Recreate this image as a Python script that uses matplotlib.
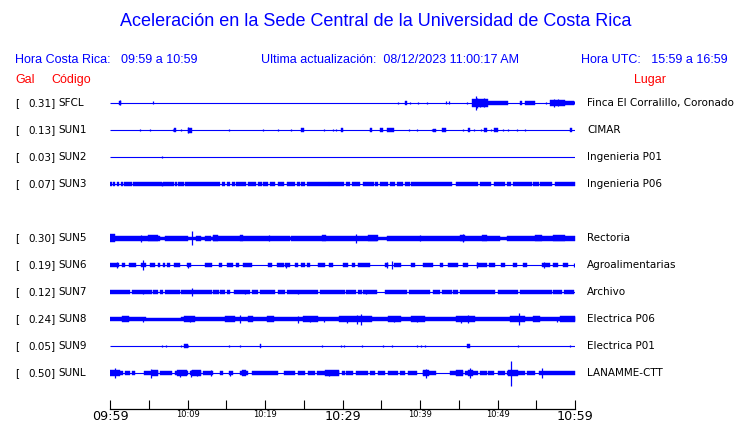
import matplotlib
matplotlib.use("Agg")
import matplotlib.pyplot as plt

W, H = 740, 423
BLUE = "#0000ff"

# ---- station table ----
codes = ["SFCL", "SUN1", "SUN2", "SUN3", "SUN5", "SUN6", "SUN7", "SUN8", "SUN9", "SUNL"]
gal = [0.31, 0.13, 0.03, 0.07, 0.30, 0.19, 0.12, 0.24, 0.05, 0.50]
places = ["Finca El Corralillo, Coronado", "CIMAR", "Ingenieria P01", "Ingenieria P06",
          "Rectoria", "Agroalimentarias", "Archivo", "Electrica P06", "Electrica P01",
          "LANAMME-CTT"]
rows = [0, 1, 2, 3, 5, 6, 7, 8, 9, 10]

time_labels = ["09:59", "10:09", "10:19", "10:29", "10:39", "10:49", "10:59"]

# ---- trace envelopes ----
# bursts: (start min, end min, half height px); spikes: (min, half height px)
sfcl_bursts = [(1.1, 1.4, 1.5), (38.0, 38.3, 1.5), (46.7, 48.8, 3.3), (48.8, 51.3, 1.5),
               (52.9, 53.2, 1.5), (53.5, 54.8, 1.7), (56.8, 58.7, 2.8), (58.7, 59.9, 1.5)]
sfcl_spikes = [(1.3, 2.5), (5.5, 1.5), (37.1, 1.3), (38.7, 1.0), (39.8, 1.3), (40.9, 1.0),
               (43.4, 1.5), (43.8, 1.5), (46.1, 1.0), (47.2, 7.0), (47.4, 5.0), (47.7, 4.0),
               (48.3, 4.5), (50.1, 1.5), (56.3, 1.0), (57.3, 4.0), (57.8, 3.5), (59.9, 1.5)]

sun1_bursts = [(8.3, 8.5, 1.5), (10.1, 10.6, 2.0), (24.6, 25.0, 1.5), (29.8, 30.0, 1.2),
               (33.5, 33.8, 1.5), (34.9, 35.2, 1.5), (35.7, 36.7, 1.7), (41.7, 42.0, 1.0),
               (42.9, 43.4, 1.5), (46.2, 46.5, 1.5), (48.3, 48.7, 1.7), (49.6, 50.0, 1.7),
               (59.3, 59.6, 1.5)]
sun1_spikes = [(3.9, 1.3), (5.1, 1.3), (8.1, 1.0), (9.2, 1.3), (10.1, 3.3), (15.4, 1.3),
               (19.8, 1.3), (21.7, 0.8), (23.3, 1.3), (27.6, 1.3), (28.8, 1.3), (29.2, 1.3),
               (29.9, 1.3), (33.6, 1.3), (35.0, 1.3), (38.6, 1.3), (39.6, 1.3), (41.5, 1.3),
               (45.6, 1.3), (47.0, 1.3), (47.9, 1.0), (49.1, 1.3), (50.7, 1.3), (51.3, 1.3),
               (52.5, 0.8), (53.6, 1.3)]

sun2_bursts = []
sun2_spikes = [(6.75, 1.3)]

sun3_bursts = [(a, b, 1.3) for a, b in [
    (0.0, 0.2), (0.4, 0.7), (0.9, 1.2), (1.4, 1.7), (1.8, 2.8), (3.0, 6.7), (6.8, 8.2),
    (8.4, 8.6), (8.8, 9.5), (9.7, 14.2), (14.4, 14.8), (15.1, 15.5), (15.7, 16.1),
    (16.3, 17.6), (17.8, 18.9), (19.1, 19.6), (19.8, 20.4), (20.6, 21.3), (21.7, 22.4),
    (22.8, 23.9), (24.1, 24.5), (24.7, 25.2), (25.4, 28.2), (28.3, 30.2), (30.4, 31.0),
    (31.2, 32.3), (32.6, 34.0), (34.2, 34.6), (34.8, 35.9), (36.1, 36.8), (37.0, 37.8),
    (38.1, 38.7), (38.9, 44.1), (44.7, 47.5), (47.7, 49.2), (49.5, 51.0), (51.2, 51.8),
    (52.0, 54.4), (54.6, 55.3), (55.5, 57.0), (57.4, 59.6), (59.6, 60.0)]]
sun3_spikes = [(6.75, 2.0)]

sun5_bursts = [(0.0, 6.4, 2.0), (6.4, 7.1, 1.0), (7.1, 10.0, 2.0), (10.0, 11.1, 1.0),
               (11.1, 11.8, 2.0), (11.8, 12.3, 1.0), (12.3, 13.0, 2.0), (13.0, 13.3, 1.0),
               (13.3, 23.2, 2.0), (23.2, 23.4, 1.0), (23.4, 34.4, 2.0), (34.4, 35.7, 1.0),
               (35.7, 50.3, 2.0), (50.3, 51.2, 1.0), (51.2, 60.0, 2.0),
               (0.0, 0.6, 3.5), (4.9, 6.2, 2.7), (13.3, 13.9, 2.7), (16.8, 17.2, 2.7),
               (27.3, 27.9, 2.7), (33.3, 34.6, 2.7), (45.2, 45.8, 2.7), (48.0, 48.6, 2.7),
               (54.8, 55.7, 2.7), (57.2, 58.7, 2.7)]
sun5_spikes = [(10.6, 7.3), (31.8, 4.5), (45.6, 4.0), (4.0, 3.5), (20.5, 3.0), (40.0, 3.0)]

sun6_bursts = [(a, b, 1.5) for a, b in [
    (0.0, 1.1), (1.5, 1.9), (2.4, 3.4), (4.0, 4.7), (5.2, 5.8), (6.2, 6.5), (6.9, 7.1),
    (7.3, 7.7), (8.2, 9.0), (9.9, 10.4), (12.3, 13.1), (14.0, 14.4), (15.1, 15.9),
    (16.3, 16.7), (17.2, 18.3), (20.4, 20.9), (21.5, 22.4), (22.6, 23.2), (23.9, 24.3),
    (24.7, 25.2), (25.4, 25.8), (26.9, 27.7), (28.3, 28.8), (30.1, 30.7), (31.2, 31.6),
    (32.0, 33.5), (35.5, 35.9), (36.6, 37.6), (38.9, 39.3), (40.4, 41.7), (42.6, 43.0),
    (43.6, 44.9), (45.6, 46.2), (47.3, 48.6), (48.9, 49.7), (50.5, 51.0), (52.0, 52.5),
    (53.3, 53.8), (55.8, 56.8), (57.2, 57.8), (58.5, 59.1)]]
sun6_spikes = [(0.9, 3.3), (4.3, 5.0), (10.1, 2.5), (22.7, 2.5), (35.7, 3.0), (36.4, 4.0),
               (47.4, 3.0), (56.0, 2.7), (59.9, 2.0)]

sun7_bursts = [(a, b, 1.4) for a, b in [
    (0.0, 2.6), (2.8, 5.4), (5.6, 6.2), (6.5, 6.9), (7.1, 9.0), (9.2, 13.1), (13.3, 14.0),
    (14.2, 14.8), (15.1, 15.5), (16.0, 18.1), (18.3, 19.1), (19.4, 21.3), (21.7, 22.6),
    (22.8, 26.9), (27.1, 30.3), (30.5, 31.8), (32.0, 32.5), (32.7, 34.4), (35.5, 38.3),
    (38.6, 41.3), (41.7, 42.6), (42.8, 44.1), (44.3, 44.9), (45.2, 49.7), (50.0, 52.7),
    (52.9, 57.0), (57.2, 58.3), (58.6, 59.9)]]
sun7_spikes = [(10.6, 3.7), (4.2, 2.3), (17.4, 2.0), (24.2, 2.0), (33.0, 2.0)]

sun8_bursts = [(0.0, 4.7, 1.8), (4.7, 9.2, 1.0), (9.2, 60.0, 1.8),
               (1.5, 2.4, 2.6), (9.5, 11.0, 2.6), (14.8, 16.1, 2.6), (17.8, 18.5, 2.6),
               (20.2, 21.1, 2.6), (24.9, 26.9, 2.6), (29.5, 33.8, 2.8), (35.9, 37.6, 2.6),
               (38.9, 40.6, 2.6), (44.7, 47.1, 2.6), (51.6, 53.5, 2.6), (54.6, 55.5, 2.6),
               (58.1, 60.0, 2.6)]
sun8_spikes = [(4.2, 2.5), (16.8, 4.0), (24.2, 3.5), (32.4, 5.5), (46.2, 4.0), (52.8, 6.0),
               (25.8, 3.0), (27.6, 2.5), (30.6, 3.5), (57.7, 2.5), (31.9, 4.5), (10.3, 3.2),
               (36.6, 3.2), (39.6, 3.2), (45.3, 3.5)]

sun9_bursts = [(9.5, 10.0, 1.2), (19.3, 19.5, 1.5), (46.0, 46.4, 1.5)]
sun9_spikes = [(m, 1.3) for m in [6.75, 7.2, 9.2, 9.7, 10.0, 15.4, 16.8, 27.4, 29.8, 30.2,
                                 32.5, 35.2, 36.4, 39.6, 40.1, 40.6, 52.7, 59.4]]

sunl_bursts = [(a, b, 1.5) for a, b in [
    (0.0, 1.7), (1.9, 2.6), (2.8, 3.2), (4.4, 6.2), (6.5, 8.0), (8.4, 10.1), (10.3, 11.8),
    (12.0, 13.3), (14.2, 14.6), (15.3, 15.9), (16.8, 17.8), (18.3, 21.7), (22.4, 23.9),
    (24.3, 25.2), (25.6, 26.4), (26.7, 29.5), (29.9, 30.3), (30.5, 31.4), (31.8, 33.3),
    (33.5, 34.2), (34.6, 35.5), (35.9, 37.2), (37.4, 38.1), (38.5, 39.6), (40.4, 42.1),
    (43.9, 45.6), (45.8, 47.5), (47.7, 48.6), (48.8, 49.5), (50.1, 51.0), (51.2, 53.5),
    (53.8, 54.8), (55.3, 60.0)]] + \
    [(a, b, 2.3) for a, b in [
    (0.0, 1.3), (5.4, 6.2), (8.6, 9.9), (10.6, 11.8), (17.0, 17.6), (27.8, 29.5),
    (40.4, 41.1), (44.7, 45.6), (46.2, 46.9), (51.4, 52.7)]]
sunl_spikes = [(0.6, 5.3), (5.3, 4.5), (9.0, 3.5), (10.5, 3.5), (11.2, 3.0), (13.0, 3.0),
               (15.5, 2.5), (17.2, 2.0), (28.2, 2.5), (40.8, 4.5), (46.5, 5.0), (51.8, 12.5),
               (55.8, 5.0)]

bursts = [sfcl_bursts, sun1_bursts, sun2_bursts, sun3_bursts, sun5_bursts,
          sun6_bursts, sun7_bursts, sun8_bursts, sun9_bursts, sunl_bursts]
spikes = [sfcl_spikes, sun1_spikes, sun2_spikes, sun3_spikes, sun5_spikes,
          sun6_spikes, sun7_spikes, sun8_spikes, sun9_spikes, sunl_spikes]


def fx(x):
    return x / W


def fy(y):
    return 1 - y / H


fig = plt.figure(figsize=(W / 100, H / 100), dpi=100)
fig.patch.set_facecolor("white")

# trace panel: x in minutes, y in pixels from the top of the image
top, bottom = 88, 409
ax = fig.add_axes([fx(110), fy(bottom), (575 - 110) / W, (bottom - top) / H])
ax.set_xlim(0, 60)
ax.set_ylim(bottom, top)

pad = 0.5  # ragged noise edges read thicker than a flat block
for i in range(len(codes)):
    yc = 103 + 27 * rows[i]
    ax.hlines(yc, 0, 60, color=BLUE, lw=0.8)
    for a, b, h in bursts[i]:
        ax.broken_barh([(a, b - a)], (yc - h - pad, 2 * (h + pad)),
                       facecolor=BLUE, edgecolor=BLUE, linewidth=0.3)
    for m, h in spikes[i]:
        ax.vlines(m, yc - h, yc + h, color=BLUE, lw=0.9)

    fig.text(fx(15), fy(yc), "[", fontsize=7.5, va="center", ha="left")
    fig.text(fx(55.5), fy(yc), f"{gal[i]:.2f}]", fontsize=7.5, va="center", ha="right")
    fig.text(fx(58.5), fy(yc), codes[i], fontsize=7.5, va="center", ha="left")
    fig.text(fx(587), fy(yc), places[i], fontsize=7.5, va="center", ha="left")

for s in ["top", "left", "right"]:
    ax.spines[s].set_visible(False)
ax.spines["bottom"].set_linewidth(0.9)
ax.set_yticks([])
ax.set_xticks(range(0, 61, 10))
ax.set_xticks(range(5, 60, 10), minor=True)
ax.set_xticklabels(time_labels)
ax.tick_params(axis="x", which="both", direction="in", length=6.5, width=0.8, pad=1)
for k, lab in enumerate(ax.get_xticklabels()):
    lab.set_fontsize(9.2 if k % 3 == 0 else 6)

# header
hfont = "Liberation Sans"
fig.text(fx(376), fy(22), "Aceleración en la Sede Central de la Universidad de Costa Rica",
         color=BLUE, fontsize=13, family=hfont, ha="center", va="center")
fig.text(fx(15), fy(60), "Hora Costa Rica:   09:59 a 10:59", color=BLUE, fontsize=9,
         family=hfont, va="center")
fig.text(fx(261), fy(60), "Ultima actualización:  08/12/2023 11:00:17 AM", color=BLUE,
         fontsize=9, family=hfont, va="center")
fig.text(fx(728), fy(60), "Hora UTC:   15:59 a 16:59", color=BLUE, fontsize=9,
         family=hfont, va="center", ha="right")
fig.text(fx(15), fy(80), "Gal", color="red", fontsize=9, family=hfont, va="center")
fig.text(fx(51), fy(80), "Código", color="red", fontsize=9, family=hfont, va="center")
fig.text(fx(634), fy(80), "Lugar", color="red", fontsize=9, family=hfont, va="center")

fig.savefig("out.png", dpi=100)
